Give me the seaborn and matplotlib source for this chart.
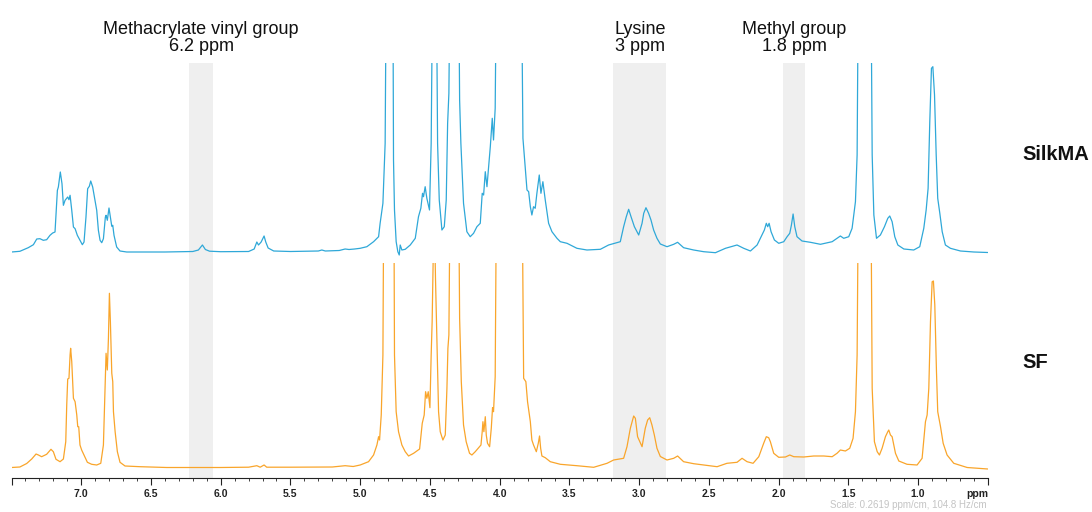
import numpy as np
import pandas as pd
import matplotlib
matplotlib.use("Agg")
import matplotlib.pyplot as plt
import seaborn as sns
from matplotlib.ticker import MultipleLocator
from matplotlib.transforms import blended_transform_factory

# ---------------- data ----------------
# SilkMA spectrum: chemical shift (ppm) and intensity (relative units)
silk_ppm = [7.50, 7.44, 7.38, 7.343, 7.319, 7.296, 7.272, 7.248, 7.224, 7.205, 7.188, 7.171, 7.164, 7.150,
            7.138, 7.128, 7.116, 7.097, 7.088, 7.080, 7.068, 7.056, 7.044, 7.028, 7.009, 6.992, 6.980, 6.966,
            6.954, 6.942, 6.932, 6.918, 6.901, 6.889, 6.877, 6.865, 6.853, 6.841, 6.827, 6.822, 6.813, 6.805,
            6.801, 6.791, 6.781, 6.774, 6.765, 6.746, 6.722, 6.674, 6.40, 6.20, 6.16, 6.131, 6.11, 6.08, 6.00,
            5.80, 5.76, 5.741, 5.729, 5.710, 5.689, 5.677, 5.66, 5.62, 5.50, 5.30, 5.275, 5.25, 5.15, 5.108,
            5.08, 5.04, 5.00, 4.952, 4.904, 4.868, 4.857, 4.837, 4.821, 4.812, 4.790, 4.766, 4.761, 4.754,
            4.742, 4.730, 4.720, 4.713, 4.701, 4.677, 4.641, 4.605, 4.582, 4.565, 4.553, 4.546, 4.534, 4.522,
            4.503, 4.491, 4.479, 4.467, 4.455, 4.445, 4.433, 4.414, 4.397, 4.383, 4.373, 4.364, 4.354, 4.326,
            4.295, 4.287, 4.278, 4.259, 4.235, 4.211, 4.187, 4.163, 4.139, 4.125, 4.115, 4.103, 4.091, 4.079,
            4.067, 4.053, 4.044, 4.032, 4.022, 3.936, 3.845, 3.833, 3.821, 3.804, 3.792, 3.780, 3.769, 3.757,
            3.745, 3.733, 3.716, 3.704, 3.690, 3.673, 3.649, 3.625, 3.589, 3.565, 3.517, 3.446, 3.374, 3.278,
            3.219, 3.159, 3.135, 3.111, 3.092, 3.075, 3.058, 3.034, 3.003, 2.979, 2.967, 2.951, 2.932, 2.915,
            2.896, 2.872, 2.848, 2.800, 2.752, 2.724, 2.681, 2.609, 2.537, 2.453, 2.381, 2.298, 2.250, 2.202,
            2.154, 2.119, 2.102, 2.088, 2.078, 2.068, 2.054, 2.030, 1.999, 1.963, 1.939, 1.920, 1.908, 1.896,
            1.884, 1.868, 1.832, 1.772, 1.700, 1.616, 1.581, 1.557, 1.533, 1.497, 1.473, 1.449, 1.437, 1.427,
            1.384, 1.339, 1.329, 1.317, 1.298, 1.270, 1.241, 1.217, 1.203, 1.186, 1.167, 1.145, 1.102, 1.031,
            0.988, 0.959, 0.942, 0.928, 0.916, 0.904, 0.894, 0.882, 0.870, 0.859, 0.844, 0.827, 0.804, 0.768,
            0.696, 0.600, 0.50]
silk_int = [0, 0.7, 4.3, 7.3, 13, 13.3, 11.7, 12.3, 16.7, 19, 20, 61.7, 65, 80,
            68.3, 46.7, 51.7, 55, 52.3, 56.7, 41.7, 25, 23.3, 16.7, 11.7, 7.3, 10, 35,
            63.3, 65.7, 71, 65, 51.7, 41.7, 21.7, 11.7, 9.3, 13.3, 35, 36.7, 31.7, 40,
            44, 35, 25.7, 26.7, 16.7, 5, 1, 0, 0, 0.5, 2, 7, 2.5, 0.8, 0.3,
            0.5, 3, 10, 7, 10, 16, 10, 4, 1, 0.5, 1, 2, 1, 1.5, 3,
            2.5, 3, 3.7, 5.3, 10.3, 15.3, 28.7, 48.7, 108.7, 300, 900, 300, 92, 42,
            10.3, 0.3, -3, 7, 2, 2.7, 7, 13.7, 35.3, 43.7, 58.7, 55.3, 65.3, 53.7,
            42, 108.7, 300, 500, 300, 108.7, 52, 22, 25.3, 52, 128.7, 158.7, 300, 600,
            300, 152, 108.7, 48.7, 20.3, 15.3, 18.7, 25.3, 28.7, 58.7, 57, 80.3, 65.3, 85.3,
            105.3, 133.7, 112, 143.7, 300, 900, 300, 113.7, 92, 62, 60.3, 45.3, 37, 45.3,
            43.7, 58.7, 77, 58.7, 70.3, 52, 28.7, 20.3, 13.7, 10.3, 8.7, 3.7, 2, 2.7,
            7, 9.3, 10.3, 25.3, 35.3, 42.7, 35.3, 25.3, 17, 28.7, 38.7, 44.3, 38.7, 32,
            22, 13.7, 8, 5.3, 7.7, 9.7, 4.3, 2, 0.3, -0.7, 3.7, 7, 3.7, 1,
            7, 17, 22, 28.7, 25.3, 28.7, 20.3, 12, 8.7, 10.3, 15.3, 18.7, 27, 38,
            25.3, 15.3, 11, 9.7, 7.7, 10.3, 13.7, 16, 13.7, 15.3, 23.7, 50.3, 97, 300,
            800, 300, 97, 37, 13.7, 17, 25.3, 33.7, 36, 30.3, 15.3, 7, 3, 2,
            5.3, 23.7, 42, 63.7, 130.3, 183.7, 185.3, 157, 97, 53.7, 38.7, 20.3, 7, 3.7,
            1, 0, -0.5]

# SF spectrum
sf_ppm = [7.50, 7.44, 7.391, 7.355, 7.324, 7.307, 7.284, 7.248, 7.217, 7.200, 7.181, 7.152, 7.128, 7.111,
          7.104, 7.097, 7.088, 7.080, 7.076, 7.068, 7.056, 7.044, 7.032, 7.025, 7.018, 7.009, 6.997, 6.980,
          6.956, 6.925, 6.889, 6.860, 6.841, 6.829, 6.822, 6.813, 6.805, 6.798, 6.791, 6.781, 6.774, 6.769,
          6.757, 6.741, 6.722, 6.686, 6.578, 6.387, 6.00, 5.80, 5.741, 5.717, 5.689, 5.670, 5.50, 5.20,
          5.108, 5.05, 5.00, 4.940, 4.904, 4.880, 4.868, 4.861, 4.849, 4.837, 4.830, 4.792, 4.759, 4.754,
          4.742, 4.725, 4.701, 4.677, 4.653, 4.617, 4.574, 4.555, 4.541, 4.531, 4.522, 4.512, 4.500, 4.491,
          4.484, 4.474, 4.469, 4.460, 4.450, 4.438, 4.426, 4.407, 4.390, 4.378, 4.371, 4.364, 4.354, 4.326,
          4.295, 4.287, 4.275, 4.259, 4.240, 4.216, 4.199, 4.175, 4.151, 4.134, 4.125, 4.120, 4.113, 4.103,
          4.096, 4.087, 4.072, 4.060, 4.051, 4.044, 4.032, 4.022, 3.931, 3.840, 3.828, 3.812, 3.800, 3.780,
          3.769, 3.757, 3.737, 3.723, 3.714, 3.706, 3.697, 3.673, 3.637, 3.565, 3.446, 3.326, 3.230, 3.183,
          3.111, 3.087, 3.063, 3.039, 3.027, 3.011, 2.979, 2.956, 2.939, 2.924, 2.908, 2.891, 2.872, 2.848,
          2.800, 2.752, 2.724, 2.681, 2.609, 2.537, 2.441, 2.370, 2.298, 2.262, 2.226, 2.183, 2.142, 2.107,
          2.088, 2.071, 2.059, 2.035, 1.999, 1.951, 1.920, 1.891, 1.820, 1.748, 1.676, 1.616, 1.581, 1.557,
          1.521, 1.490, 1.466, 1.449, 1.437, 1.427, 1.384, 1.339, 1.329, 1.313, 1.293, 1.277, 1.258, 1.234,
          1.217, 1.210, 1.198, 1.186, 1.162, 1.138, 1.079, 1.007, 0.971, 0.947, 0.935, 0.923, 0.911, 0.899,
          0.890, 0.880, 0.868, 0.859, 0.839, 0.820, 0.792, 0.744, 0.648, 0.50]
sf_int = [0, 0.5, 4, 8.5, 13.5, 12.5, 10.8, 13.2, 18.2, 15.8, 8.2, 5.8, 8.5, 25.8,
          62.5, 88.5, 89.2, 112.5, 119.2, 105.8, 69.2, 65.8, 52.5, 40.8, 40.8, 22.5, 17.5, 12.5,
          5.2, 3.2, 2.5, 4.2, 22.5, 79.2, 114.2, 97.5, 129.2, 174.2, 145.8, 94.2, 85.8, 55.8,
          35.8, 15.8, 5.2, 1.5, 0.8, 0, 0, 0.3, 1.8, 0.3, 2.5, 0.3, 0.3, 0.5,
          1.8, 1, 2.5, 5.8, 12.5, 22.5, 30.8, 27.5, 52.5, 112.5, 300, 900, 300, 112.5,
          55.8, 35.8, 22.5, 15.8, 11.5, 14.2, 18.5, 44.2, 52.5, 75.8, 69.2, 75.8, 59.8, 112.5,
          145.8, 230, 260, 189, 129.2, 55.8, 35.8, 27.5, 32.5, 79.2, 119.2, 132.5, 300, 600,
          300, 149.2, 85.8, 42.5, 25.8, 14.2, 12.5, 15.8, 19.8, 22.5, 35.8, 45.8, 35.8, 50.8,
          32.5, 24.2, 20.8, 39.2, 59.8, 55.8, 90.8, 300, 900, 300, 89.2, 85.8, 65.8, 45.8,
          27.5, 22.5, 15.8, 24.2, 31.5, 19.2, 11.5, 9.8, 5.8, 3.2, 1.8, 0.2, 4.2, 7.5,
          9.2, 20.8, 39.2, 51.5, 49.2, 30.8, 20.8, 39.2, 47.5, 49.8, 42.5, 32.5, 19.2, 11,
          7.5, 9.2, 11.5, 5.8, 3.8, 2.5, 0.8, 4.2, 5.2, 9.2, 5.8, 4.2, 10.8, 24.2,
          30.8, 29.8, 25.8, 14.2, 10.2, 10.5, 12.5, 10.8, 10.5, 11.5, 11.5, 10.8, 14.2, 17.5,
          16.5, 19.2, 29.2, 55.8, 112.5, 300, 800, 300, 79.2, 25.8, 15.8, 12.5, 19.2, 30.8,
          35.8, 37.5, 32.5, 30.8, 14.2, 6.5, 3.2, 2.5, 9.2, 45.8, 52.5, 79.2, 145.8, 185.8,
          186.5, 162.5, 95.8, 55.8, 40.8, 24.2, 12.5, 4.2, 0, -1.5]

sample_names = ["SilkMA", "SF"]

# highlighted regions (ppm, high -> low) and their annotations
band_hi = [6.227, 3.184, 1.966]
band_lo = [6.055, 2.804, 1.808]
band_title = ["Methacrylate vinyl group", "Lysine", "Methyl group"]
band_sub = ["6.2 ppm", "3 ppm", "1.8 ppm"]

tick_pos = [7.5, 7.0, 6.5, 6.0, 5.5, 5.0, 4.5, 4.0, 3.5, 3.0, 2.5, 2.0, 1.5, 1.0, 0.5]
tick_lab = ["", "7.0", "6.5", "6.0", "5.5", "5.0", "4.5", "4.0", "3.5", "3.0", "2.5", "2.0", "1.5", "1.0", ""]
scale_note = "Scale: 0.2619 ppm/cm, 104.8 Hz/cm"

# ---------------- styling ----------------
sns.set_theme(style="white")
plt.rcParams["font.family"] = ["Liberation Sans", "DejaVu Sans"]

BLUE = "#2fa8d8"
ORANGE = "#f9a52b"
BAND = "#efefef"

W, H = 1092, 512
fig = plt.figure(figsize=(W / 100, H / 100), dpi=100)


def rect(x0, y0, x1, y1):
    return [x0 / W, 1 - y1 / H, (x1 - x0) / W, (y1 - y0) / H]


ax_top = fig.add_axes(rect(11.5, 63, 987.8, 263))
ax_bot = fig.add_axes(rect(11.5, 263, 987.8, 478))

df_silk = pd.DataFrame({"ppm": silk_ppm, "intensity": silk_int})
df_sf = pd.DataFrame({"ppm": sf_ppm, "intensity": sf_int})

for ax in (ax_top, ax_bot):
    ax.set_facecolor("none")
    for hi, lo in zip(band_hi, band_lo):
        ax.axvspan(lo, hi, color=BAND, lw=0, zorder=0)

sns.lineplot(data=df_silk, x="ppm", y="intensity", ax=ax_top, color=BLUE, lw=0.9,
             sort=False, estimator=None, zorder=3)
sns.lineplot(data=df_sf, x="ppm", y="intensity", ax=ax_bot, color=ORANGE, lw=0.9,
             sort=False, estimator=None, zorder=3)

ax_top.set_xlim(7.5, 0.5)
ax_bot.set_xlim(7.5, 0.5)
ax_top.set_ylim(-11, 189)
ax_bot.set_ylim(-10.5, 204.5)

for ax in (ax_top, ax_bot):
    ax.set_xlabel("")
    ax.set_ylabel("")
    ax.set_yticks([])

sns.despine(ax=ax_top, left=True, bottom=True)
ax_top.set_xticks([])
sns.despine(ax=ax_bot, left=True)
ax_bot.spines["bottom"].set_color("#222222")
ax_bot.spines["bottom"].set_linewidth(0.8)

ax_bot.set_xticks(tick_pos, labels=tick_lab, fontweight="bold")
ax_bot.xaxis.set_minor_locator(MultipleLocator(0.1))
ax_bot.tick_params(axis="x", which="major", bottom=True, length=5, width=0.8, direction="out",
                   pad=3, labelsize=7.5, colors="#222222")
ax_bot.tick_params(axis="x", which="minor", bottom=True, length=2.2, width=0.6, direction="out",
                   colors="#222222")

ax_bot.text(0.5, -(494 - 478) / 215, "ppm",
            transform=blended_transform_factory(ax_bot.transData, ax_bot.transAxes),
            ha="right", va="center", fontsize=7.5, fontweight="bold", color="#222222", clip_on=False)

fig.text(986.8 / W, 1 - 505 / H, scale_note, ha="right", va="center", fontsize=7, color="#c4c4c4")

# band annotations
trans = blended_transform_factory(ax_top.transData, fig.transFigure)
for hi, lo, t1, t2 in zip(band_hi, band_lo, band_title, band_sub):
    xc = (hi + lo) / 2
    ax_top.text(xc, 1 - 34 / H, t1, transform=trans, ha="center", va="baseline",
                fontsize=13, color="#111111", clip_on=False)
    ax_top.text(xc, 1 - 51 / H, t2, transform=trans, ha="center", va="baseline",
                fontsize=13, color="#111111", clip_on=False)

# sample labels
fig.text(1022 / W, 1 - 155 / H, sample_names[0], ha="left", va="center", fontsize=14.5,
         fontweight="bold", color="#111111")
fig.text(1022 / W, 1 - 363 / H, sample_names[1], ha="left", va="center", fontsize=14.5,
         fontweight="bold", color="#111111")

fig.savefig("out.png", dpi=100)
